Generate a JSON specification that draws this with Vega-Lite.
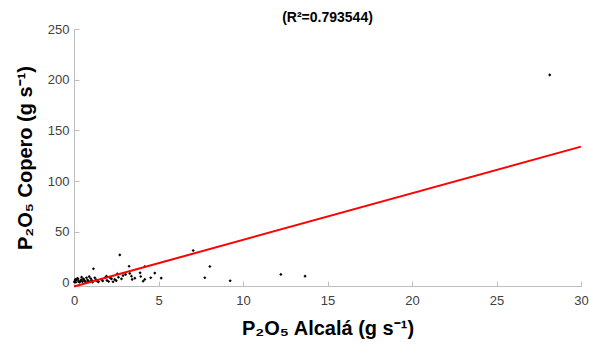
{
  "$schema": "https://vega.github.io/schema/vega-lite/v6.json",
  "width": 507,
  "height": 257,
  "autosize": "none",
  "padding": {"left": 74, "top": 29, "right": 8, "bottom": 61},
  "background": "white",
  "title": {
    "text": "(R²=0.793544)",
    "font": "Liberation Sans",
    "fontSize": 14,
    "fontWeight": "bold",
    "color": "black",
    "anchor": "middle",
    "offset": -2
  },
  "config": {
    "view": {"stroke": null},
    "axis": {
      "grid": false,
      "domainColor": "#bdbdbd",
      "tickColor": "#bdbdbd",
      "tickSize": -5,
      "labelFlush": false,
      "labelFont": "Liberation Sans",
      "labelFontSize": 13,
      "labelColor": "#404040",
      "titleFont": "Liberation Sans",
      "titleFontSize": 20,
      "titleFontWeight": "bold",
      "titleColor": "black"
    }
  },
  "datasets": {
    "obs": [
      {"alcala": 0.02, "copero": 0.5}, {"alcala": 0.05, "copero": 1.3}, {"alcala": 0.08, "copero": 3.0},
      {"alcala": 0.1, "copero": 0.2}, {"alcala": 0.15, "copero": 2.2}, {"alcala": 0.2, "copero": 4.1},
      {"alcala": 0.24, "copero": 3.6}, {"alcala": 0.28, "copero": 1.0}, {"alcala": 0.32, "copero": 0.3},
      {"alcala": 0.38, "copero": 1.3}, {"alcala": 0.42, "copero": 2.5}, {"alcala": 0.45, "copero": 5.2},
      {"alcala": 0.5, "copero": 0.8}, {"alcala": 0.55, "copero": 3.5}, {"alcala": 0.58, "copero": 3.0},
      {"alcala": 0.62, "copero": 1.8}, {"alcala": 0.68, "copero": 0.5}, {"alcala": 0.74, "copero": 4.6},
      {"alcala": 0.8, "copero": 2.4}, {"alcala": 0.84, "copero": 1.3}, {"alcala": 0.9, "copero": 5.8},
      {"alcala": 0.95, "copero": 0.9}, {"alcala": 0.99, "copero": 3.9}, {"alcala": 1.05, "copero": 2.1},
      {"alcala": 1.1, "copero": 0.4}, {"alcala": 1.15, "copero": 13.5}, {"alcala": 1.23, "copero": 4.6},
      {"alcala": 1.3, "copero": 2.8}, {"alcala": 1.37, "copero": 1.3}, {"alcala": 1.45, "copero": 0.6},
      {"alcala": 1.63, "copero": 3.0}, {"alcala": 1.7, "copero": 1.5}, {"alcala": 1.85, "copero": 4.8},
      {"alcala": 1.92, "copero": 6.2}, {"alcala": 1.95, "copero": 2.0}, {"alcala": 2.05, "copero": 0.9},
      {"alcala": 2.15, "copero": 4.5}, {"alcala": 2.22, "copero": 3.6}, {"alcala": 2.31, "copero": 0.7},
      {"alcala": 2.41, "copero": 3.0}, {"alcala": 2.5, "copero": 1.8}, {"alcala": 2.57, "copero": 8.6},
      {"alcala": 2.63, "copero": 5.2}, {"alcala": 2.71, "copero": 27.2}, {"alcala": 2.81, "copero": 3.6},
      {"alcala": 2.9, "copero": 6.8}, {"alcala": 3.05, "copero": 7.9}, {"alcala": 3.26, "copero": 16.0},
      {"alcala": 3.3, "copero": 8.9}, {"alcala": 3.4, "copero": 6.2}, {"alcala": 3.44, "copero": 3.0},
      {"alcala": 3.6, "copero": 4.2}, {"alcala": 3.91, "copero": 9.5}, {"alcala": 3.95, "copero": 5.9},
      {"alcala": 4.09, "copero": 1.3}, {"alcala": 4.19, "copero": 3.0}, {"alcala": 4.19, "copero": 15.7},
      {"alcala": 4.54, "copero": 4.6}, {"alcala": 4.78, "copero": 9.2}, {"alcala": 5.16, "copero": 4.3},
      {"alcala": 7.05, "copero": 31.5}, {"alcala": 7.74, "copero": 4.6}, {"alcala": 8.04, "copero": 15.7},
      {"alcala": 9.24, "copero": 1.7}, {"alcala": 12.24, "copero": 7.9}, {"alcala": 13.67, "copero": 6.2},
      {"alcala": 28.15, "copero": 204.7}
    ],
    "fit": [
      {"alcala": 0, "copero": -4.0},
      {"alcala": 30, "copero": 134.0}
    ]
  },
  "encoding": {
    "x": {
      "field": "alcala",
      "type": "quantitative",
      "scale": {"domain": [0, 30], "nice": false, "zero": false},
      "axis": {
        "title": "P₂O₅ Alcalá (g s⁻¹)",
        "values": [0, 5, 10, 15, 20, 25, 30],
        "labelPadding": 13,
        "titlePadding": 11
      }
    },
    "y": {
      "field": "copero",
      "type": "quantitative",
      "scale": {"domain": [-3.5, 250], "nice": false, "zero": false},
      "axis": {
        "title": "P₂O₅ Copero (g s⁻¹)",
        "values": [0, 50, 100, 150, 200, 250],
        "labelPadding": 10,
        "titlePadding": 12
      }
    }
  },
  "layer": [
    {
      "data": {"name": "obs"},
      "mark": {"type": "point", "filled": true, "shape": "diamond", "size": 10, "color": "black", "opacity": 1}
    },
    {
      "data": {"name": "fit"},
      "mark": {"type": "line", "color": "#ff0000", "strokeWidth": 2}
    }
  ]
}
